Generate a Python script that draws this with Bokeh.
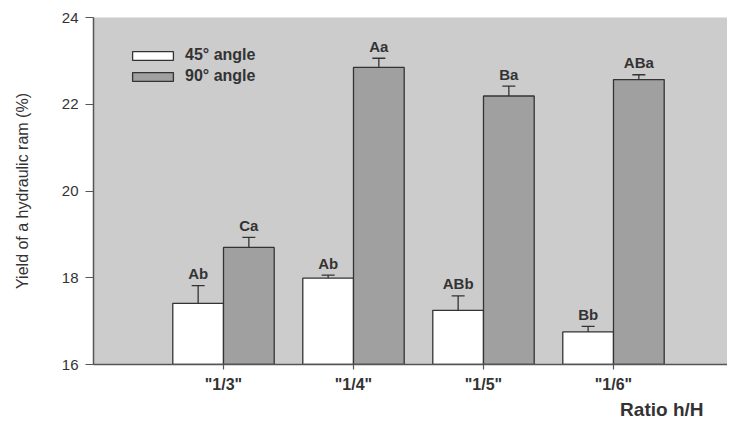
from bokeh.plotting import figure
from bokeh.models import ColumnDataSource, Range1d, Whisker, TeeHead, Legend, LegendItem, Title, FixedTicker
from bokeh.core.properties import value
from bokeh.embed import file_html
from bokeh.resources import INLINE

ratios = ['"1/3"', '"1/4"', '"1/5"', '"1/6"']
yield_45 = [17.41, 17.99, 17.25, 16.75]
err_45 = [0.41, 0.07, 0.33, 0.13]
letters_45 = ["Ab", "Ab", "ABb", "Bb"]
yield_90 = [18.70, 22.85, 22.19, 22.57]
err_90 = [0.23, 0.21, 0.23, 0.11]
letters_90 = ["Ca", "Aa", "Ba", "ABa"]

FONT = "Liberation Sans"
pos = [1, 2, 3, 4]
off = 0.195
bw = 0.39

p = figure(width=727, height=420, output_backend="svg", toolbar_location=None,
           x_range=Range1d(0, 4.877), y_range=Range1d(16, 24),
           min_border_left=93, min_border_right=0, min_border_top=17, min_border_bottom=56)
p.background_fill_color = "#cccccc"
p.border_fill_color = "white"
p.outline_line_color = None
p.grid.visible = False

def make_src(vals, errs, letters, shift):
    return ColumnDataSource(dict(
        x=[v + shift for v in pos], top=vals,
        upper=[v + e for v, e in zip(vals, errs)],
        lower=[v - e for v, e in zip(vals, errs)],
        lab=letters))

s45 = make_src(yield_45, err_45, letters_45, -off)
s90 = make_src(yield_90, err_90, letters_90, off)

r45 = p.vbar(x="x", top="top", bottom=16, width=bw, source=s45,
             fill_color="white", line_color="#333333", line_width=1.3)
r90 = p.vbar(x="x", top="top", bottom=16, width=bw, source=s90,
             fill_color="#a0a0a0", line_color="#333333", line_width=1.3)

for s in (s45, s90):
    w = Whisker(source=s, base="x", upper="upper", lower="lower", dimension="height",
                line_color="#333333", line_width=1.3,
                upper_head=TeeHead(size=13, line_color="#333333", line_width=1.3),
                lower_head=TeeHead(size=13, line_color="#333333", line_width=1.3))
    p.add_layout(w)
    p.text(x="x", y="upper", text="lab", source=s, text_align="center",
           text_baseline="alphabetic", y_offset=-12, text_font=value(FONT),
           text_font_style="bold", text_font_size="15px", text_color="#333333")

legend = Legend(items=[LegendItem(label="45° angle", renderers=[r45]),
                       LegendItem(label="90° angle", renderers=[r90])],
                location=(34, 279), background_fill_alpha=0, border_line_alpha=0,
                padding=0, margin=0, spacing=3, glyph_width=51, glyph_height=11,
                label_height=16, label_standoff=7,
                label_text_font=FONT, label_text_font_style="bold",
                label_text_font_size="16px", label_text_color="#333333")
p.add_layout(legend)

p.xaxis.ticker = FixedTicker(ticks=pos)
p.xaxis.major_label_overrides = {i: r for i, r in zip(pos, ratios)}
p.xaxis.major_tick_out = 5
p.xaxis.major_tick_in = 0
p.xaxis.minor_tick_line_color = None
p.xaxis.major_label_text_font = FONT
p.xaxis.major_label_text_font_style = "bold"
p.xaxis.major_label_text_font_size = "16px"
p.xaxis.major_label_text_color = "#333333"
p.xaxis.major_label_standoff = 6

p.yaxis.ticker = FixedTicker(ticks=[16, 18, 20, 22, 24])
p.yaxis.major_tick_out = 8
p.yaxis.major_tick_in = 0
p.yaxis.minor_tick_line_color = None
p.yaxis.major_label_text_font = FONT
p.yaxis.major_label_text_font_size = "15px"
p.yaxis.major_label_text_color = "#333333"
p.yaxis.major_label_standoff = 7
p.yaxis.axis_label = "Yield of a hydraulic ram (%)"
p.yaxis.axis_label_text_font = FONT
p.yaxis.axis_label_text_font_style = "normal"
p.yaxis.axis_label_text_font_size = "16px"
p.yaxis.axis_label_text_color = "#333333"
p.yaxis.axis_label_standoff = 28

for ax in (p.xaxis, p.yaxis):
    ax.axis_line_color = "#555555"
    ax.axis_line_width = 1.5
    ax.major_tick_line_color = "#555555"
    ax.major_tick_line_width = 1.2

p.add_layout(Title(text="Ratio h/H", align="right", offset=24, standoff=2,
                   text_font=FONT, text_font_style="bold",
                   text_font_size="19px", text_color="#333333"), "below")

open("out.html", "w").write(file_html(p, INLINE))
